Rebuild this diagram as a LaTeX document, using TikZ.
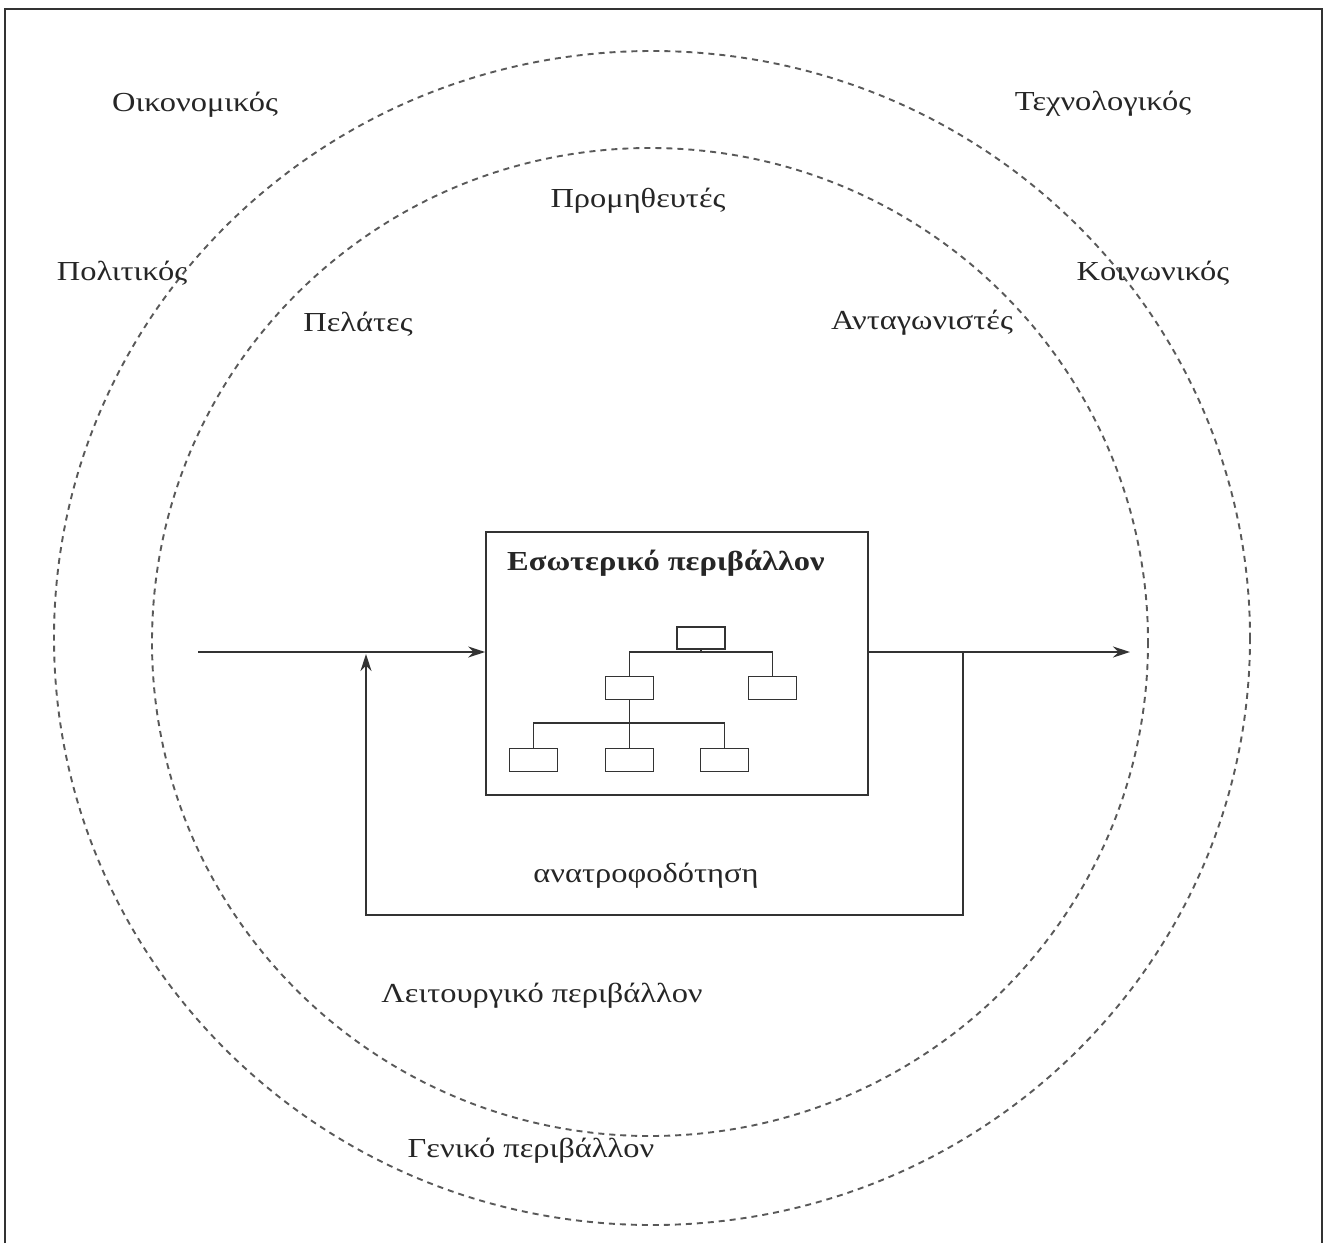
\documentclass[tikz,border=0pt]{standalone}
\usepackage{fontspec}
\setmainfont{Liberation Serif}[FakeStretch=1.18]
\usetikzlibrary{arrows.meta}

\begin{document}
\begin{tikzpicture}[x=1pt,y=-1pt,
  lbl/.style={font=\fontsize{27.5}{30}\selectfont, text=black!85, inner sep=0pt},
  ring/.style={draw=black!65, line width=1.9pt, dash pattern=on 6pt off 5pt},
  flow/.style={draw=black!80, line width=1.9pt},
  frame/.style={draw=black!80, line width=2.4pt},
  orgbox/.style={draw=black!80, line width=1.5pt, minimum width=48pt, minimum height=23pt, inner sep=0pt},
  orgline/.style={draw=black!80, line width=1.5pt},
  tip/.style={-{Stealth[length=17pt,width=11pt]}}
]
\useasboundingbox (0,0) rectangle (1325,1243);
\fill[white] (0,0) rectangle (1325,1243);

% page frame (open at the bottom)
\draw[frame] (5,1243) -- (5,9) -- (1322,9) -- (1322,1243);

% general and operating environments
\draw[ring] (652,638) ellipse [x radius=598, y radius=587];
\draw[ring] (650,642) ellipse [x radius=498, y radius=494];

% environment labels
\node[lbl] (econ) at (195,105) {Οικονομικός};
\node[lbl] (tech) at (1103,104) {Τεχνολογικός};
\node[lbl] (supp) at (638,201) {Προμηθευτές};
\node[lbl] (pol)  at (122,273) {Πολιτικός};
\node[lbl] (soc)  at (1153,273) {Κοινωνικός};
\node[lbl] (cust) at (358,324) {Πελάτες};
\node[lbl] (comp) at (922,323) {Ανταγωνιστές};
\node[lbl] (fbk)  at (646,876) {ανατροφοδότηση};
\node[lbl] (oper) at (542,996) {Λειτουργικό περιβάλλον};
\node[lbl] (gen)  at (531,1151) {Γενικό περιβάλλον};

% internal environment
\node[draw=black!80, line width=1.7pt, minimum width=382pt, minimum height=263pt, inner sep=0pt]
  (inner) at (677,663.5) {};
\node[lbl, font=\fontsize{27.5}{30}\selectfont\bfseries, anchor=west] (title) at (507,563) {Εσωτερικό περιβάλλον};

% organisation chart
\node[orgbox, minimum width=48pt, minimum height=22pt] (top) at (701,638) {};
\node[orgbox] (ml) at (629.5,688) {};
\node[orgbox] (mr) at (772.5,688) {};
\node[orgbox] (bl) at (533.5,760) {};
\node[orgbox] (bm) at (629.5,760) {};
\node[orgbox] (br) at (724.5,760) {};
\coordinate (j1) at (701,652);
\coordinate (j2) at (629.5,723);
\draw[orgline] (top.south) -- (j1);
\draw[orgline] (ml.north) |- (j1) -| (mr.north);
\draw[orgline] (ml.south) -- (bm.north);
\draw[orgline] (bl.north) |- (j2) -| (br.north);

% inputs, outputs and feedback loop
\coordinate (in)  at (198,652);
\coordinate (out) at (1130,652);
\coordinate (fb)  at (963,652);
\coordinate (fbr) at (963,915);
\coordinate (fbb) at (366,915);
\coordinate (fbl) at (366,654);
\draw[flow, tip] (in) -- (inner.west |- in);
\draw[flow, tip] (inner.east |- in) -- (out);
\draw[flow, tip] (fb) -- (fbr) -- (fbb) -- (fbl);
\end{tikzpicture}
\end{document}
